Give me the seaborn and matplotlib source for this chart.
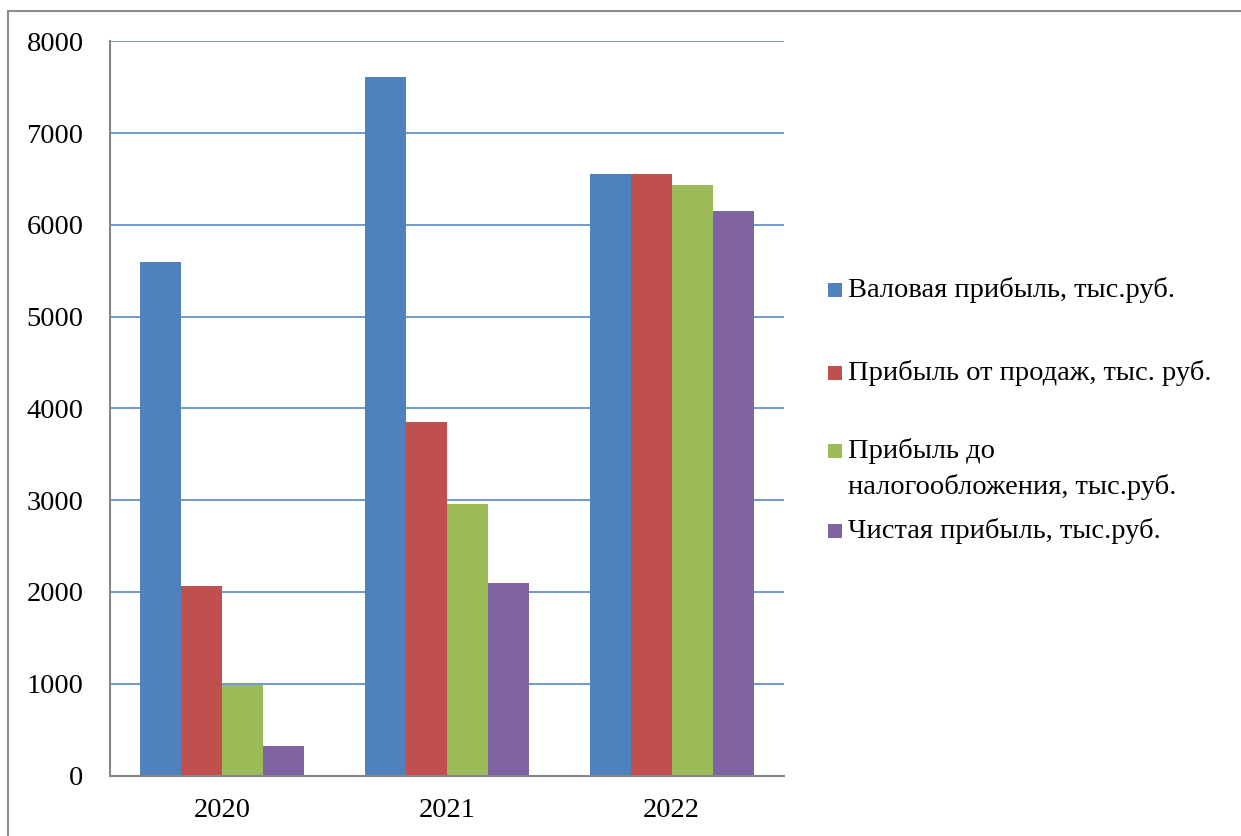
import matplotlib
matplotlib.use("Agg")
import matplotlib.pyplot as plt
from matplotlib.patches import Rectangle
from matplotlib import font_manager as fm
import seaborn as sns
import pandas as pd

# Financial results by year, thousand roubles
years = ["2020", "2021", "2022"]
series = [
    "Валовая прибыль, тыс.руб.",
    "Прибыль от продаж, тыс. руб.",
    "Прибыль до\nналогообложения, тыс.руб.",
    "Чистая прибыль, тыс.руб.",
]
gross_profit = [5595, 7610, 6555]
sales_profit = [2060, 3850, 6555]
pretax_profit = [985, 2955, 6435]
net_profit = [325, 2100, 6155]
yticks = [0, 1000, 2000, 3000, 4000, 5000, 6000, 7000, 8000]

colors = ["#4F81BD", "#C0504D", "#9BBB59", "#8064A2"]

values = [gross_profit, sales_profit, pretax_profit, net_profit]
df = pd.DataFrame(
    [(y, s, v[i]) for s, v in zip(series, values) for i, y in enumerate(years)],
    columns=["year", "series", "value"],
)

sns.set_theme(style="white")
plt.rcParams["font.family"] = "serif"
plt.rcParams["font.serif"] = ["Liberation Serif", "DejaVu Serif"]
serif_font = fm.FontProperties(family="serif", size=20.5)

W, H = 1241, 836
fig = plt.figure(figsize=(W / 100, H / 100), dpi=100)
fig.patch.set_facecolor("white")

# outer chart frame
fig.patches.append(Rectangle((8 / W, -0.1), 1.2, 1.1 - 11 / H,
                             transform=fig.transFigure, fill=False,
                             edgecolor="#8c8c8c", linewidth=1.5))

left, right, top, bottom = 110, 784, 41.3, 775.5
ax = fig.add_axes([left / W, (H - bottom) / H, (right - left) / W, (bottom - top) / H])

sns.barplot(data=df, x="year", y="value", hue="series", palette=colors,
            width=0.73, gap=0, saturation=1, ax=ax, legend=False,
            errorbar=None, linewidth=0, zorder=3)

ax.set_ylim(0, 8000)
ax.set_yticks(yticks)
ax.set_xlim(-0.5, 2.5)
ax.set_xlabel("")
ax.set_ylabel("")
ax.grid(axis="y", color="#4A7EBB", linewidth=1.1, zorder=0)
ax.grid(axis="x", visible=False)
ax.set_axisbelow(True)
for side in ["top", "right"]:
    ax.spines[side].set_visible(False)
for side in ["left", "bottom"]:
    ax.spines[side].set_color("#868686")
    ax.spines[side].set_linewidth(1.5)
    ax.spines[side].set_zorder(4)
ax.tick_params(axis="y", length=0, pad=19, labelcolor="black")
ax.tick_params(axis="x", length=0, pad=16, labelcolor="black")
for lbl in ax.get_xticklabels() + ax.get_yticklabels():
    lbl.set_fontproperties(serif_font)

# legend on the right
sq = 14
entry_y = [290, 372.5, 451, 531]
line_gap = 36
for lab, col, yc in zip(series, colors, entry_y):
    fig.patches.append(Rectangle((827.5 / W, (H - yc - sq / 2) / H), sq / W, sq / H,
                                 transform=fig.transFigure, facecolor=col,
                                 edgecolor="none"))
    for k, line in enumerate(lab.split("\n")):
        fig.text(848 / W, (H - yc - k * line_gap) / H, line,
                 fontproperties=serif_font, va="center", ha="left", color="black")

fig.savefig("out.png", dpi=100)
